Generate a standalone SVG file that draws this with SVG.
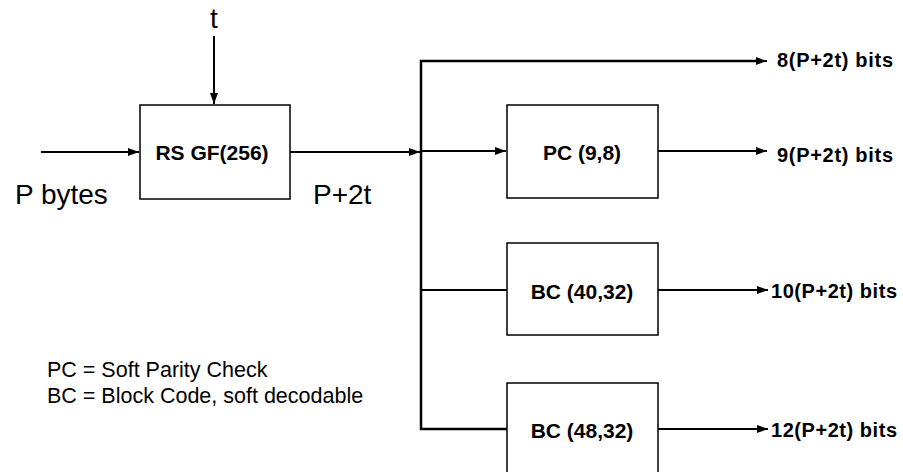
<svg xmlns="http://www.w3.org/2000/svg" width="903" height="472" viewBox="0 0 903 472">
<style>
.box{fill:#fff;stroke:#000;stroke-width:1.5}
.ln{fill:none;stroke:#000;stroke-width:2}
.bus{fill:none;stroke:#000;stroke-width:2.5}
.lbl{font-family:"Liberation Sans",Arial,sans-serif;font-weight:bold;font-size:20px;fill:#000}
.big{font-family:"Liberation Sans",Arial,sans-serif;font-size:28px;fill:#000}
.leg{font-family:"Liberation Sans",Arial,sans-serif;font-size:21.5px;fill:#000}
</style>
<defs>
<marker id="ah" markerWidth="11" markerHeight="8" refX="11" refY="4" orient="auto" markerUnits="userSpaceOnUse">
<path d="M0,0 L11,4 L0,8 Z" fill="#000"/>
</marker>
</defs>
<g id="connectors">
<line class="ln" x1="214" y1="36" x2="214" y2="104" marker-end="url(#ah)"/>
<line class="ln" x1="41" y1="152" x2="139" y2="152" marker-end="url(#ah)"/>
<line class="ln" x1="290" y1="152" x2="420" y2="152" marker-end="url(#ah)"/>
<polyline class="bus" points="762,61 421,61 421,429 507,429"/>
<line class="ln" x1="421" y1="61" x2="767" y2="61" marker-end="url(#ah)"/>
<line class="ln" x1="421" y1="151" x2="506" y2="151" marker-end="url(#ah)"/>
<line class="ln" x1="421" y1="290" x2="507" y2="290"/>
<line class="ln" x1="658" y1="151" x2="767" y2="151" marker-end="url(#ah)"/>
<line class="ln" x1="658" y1="290" x2="768" y2="290" marker-end="url(#ah)"/>
<line class="ln" x1="658" y1="429" x2="768" y2="429" marker-end="url(#ah)"/>
</g>
<g id="rs">
<rect class="box" x="140" y="105" width="150" height="94"/>
<text class="lbl" x="212" y="160" text-anchor="middle" style="font-size:21px">RS GF(256)</text>
</g>
<g id="pc">
<rect class="box" x="507" y="105" width="151" height="93"/>
<text class="lbl" x="582" y="160" text-anchor="middle" style="font-size:21px">PC (9,8)</text>
</g>
<g id="bc40">
<rect class="box" x="507" y="243" width="151" height="92"/>
<text class="lbl" x="582" y="299" text-anchor="middle" style="font-size:21px">BC (40,32)</text>
</g>
<g id="bc48">
<rect class="box" x="507" y="383" width="151" height="95"/>
<text class="lbl" x="582" y="438" text-anchor="middle" style="font-size:21px">BC (48,32)</text>
</g>
<g id="labels">
<text class="big" x="214" y="28" text-anchor="middle">t</text>
<text class="big" x="15" y="204">P bytes</text>
<text class="big" x="313" y="204">P+2t</text>
<text class="lbl" x="777" y="67" textLength="116">8(P+2t) bits</text>
<text class="lbl" x="777" y="162" textLength="116">9(P+2t) bits</text>
<text class="lbl" x="771" y="298" textLength="126">10(P+2t) bits</text>
<text class="lbl" x="771" y="437" textLength="126">12(P+2t) bits</text>
<text class="leg" x="47" y="377">PC = Soft Parity Check</text>
<text class="leg" x="47" y="403">BC = Block Code, soft decodable</text>
</g>
</svg>
